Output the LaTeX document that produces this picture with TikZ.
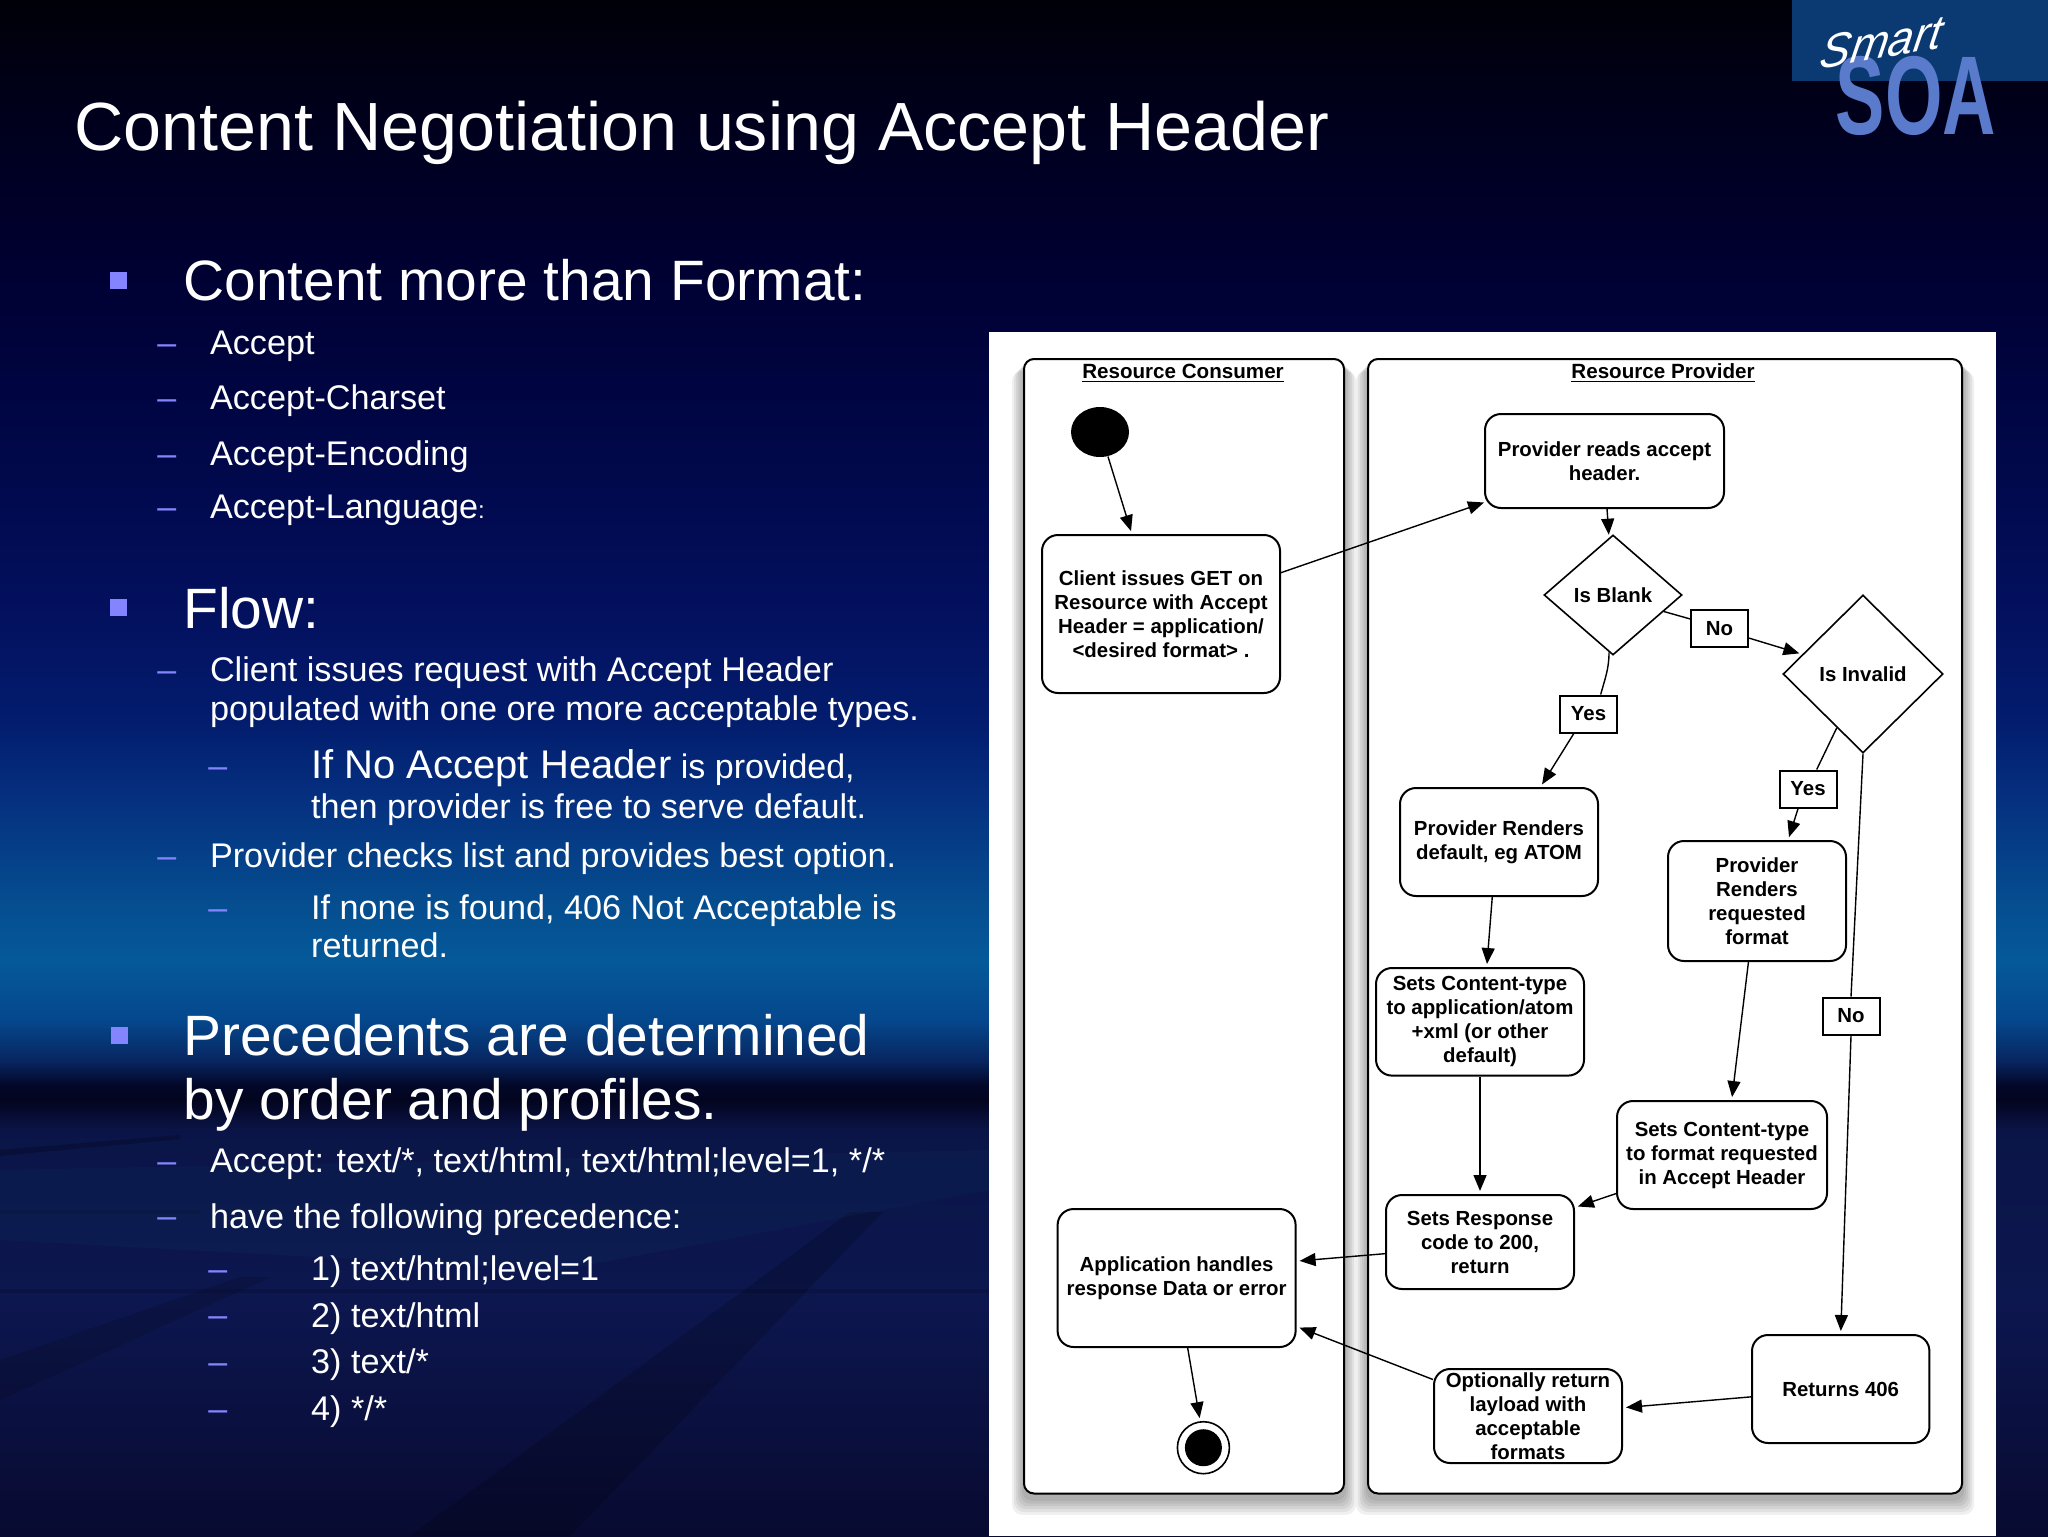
\documentclass[tikz,border=0pt]{standalone}
\usepackage{fontspec}
\setmainfont{Liberation Sans}
\usetikzlibrary{positioning, arrows.meta, shapes.geometric}
\definecolor{slideLilac}{HTML}{8484FF}
\definecolor{logoBlue}{HTML}{0B3A72}
\definecolor{logoSoa}{HTML}{5A7BCB}
\definecolor{slideTeal}{HTML}{1A7A8A}
\pgfdeclareverticalshading{slideSky}{100bp}{rgb(0bp)=(.03,.04,.19); rgb(25bp)=(.03,.04,.19); rgb(32.68bp)=(.05,.09,.31);
  rgb(38.2bp)=(.04,.08,.28); rgb(39.19bp)=(.01,.02,.12); rgb(39.68bp)=(.01,.03,.16); rgb(40.49bp)=(.03,.15,.38);
  rgb(41.8bp)=(.02,.28,.55); rgb(43.75bp)=(.02,.35,.6); rgb(45.7bp)=(.02,.3,.56); rgb(48.96bp)=(.02,.19,.5);
  rgb(51.56bp)=(.01,.11,.43); rgb(55.47bp)=(.01,.06,.36); rgb(61.98bp)=(0,.02,.26); rgb(66.54bp)=(0,0,.19);
  rgb(71.74bp)=(0,0,.1); rgb(75bp)=(0,0,.03); rgb(100bp)=(0,0,.03)}
\newcommand{\slideSize}[1]{\fontsize{#1}{#1}\selectfont}
\tikzset{
  slideTitle/.style={text=white, anchor=base west, inner sep=0pt, font=\slideSize{34.1}},
  headLine/.style={text=white, anchor=base west, inner sep=0pt, font=\slideSize{28.45}},
  subLine/.style={text=white, anchor=base west, inner sep=0pt, font=\slideSize{17.1}},
  dashMark/.style={text=slideLilac, anchor=base west, inner sep=0pt, font=\slideSize{17}},
  bulletMark/.style={fill=slideLilac, inner sep=0pt, minimum size=8.5pt},
  laneBox/.style={draw=black, line width=1pt, rounded corners=5pt, fill=white},
  laneTitle/.style={inner sep=0pt, font=\fontsize{10.3}{12}\selectfont\bfseries},
  flowBox/.style={draw=black, line width=1pt, rounded corners=8pt, fill=white, align=center, inner sep=0pt,
    font=\fontsize{10.2}{12}\selectfont\bfseries},
  flowDiamond/.style={diamond, draw=black, line width=.8pt, fill=white, align=center, inner sep=0pt,
    font=\fontsize{10.2}{12}\selectfont\bfseries},
  flowTag/.style={draw=black, line width=1pt, fill=white, inner sep=0pt, minimum width=28.5pt, minimum height=18.5pt,
    font=\fontsize{10.2}{12}\selectfont\bfseries},
  flowLine/.style={-{Stealth[length=8pt,width=6.5pt,inset=0pt]}, line width=.7pt, black, shorten >=1.5pt}
}
\begin{document}
\begin{tikzpicture}[x=.5pt, y=-.5pt]
    \useasboundingbox (0,0) rectangle (2048,1536);
    \fill[shading=slideSky] (0,0) rectangle (2048,1536);
    \fill[black, opacity=.18] (883,1212) -- (850,1212) -- (410,1536) -- (570,1536) -- cycle;
    \fill[black, opacity=.14] (271,1277) -- (240,1277) -- (0,1360) -- (0,1400) -- cycle;
    \fill[black, opacity=.2] (0,1150) -- (180,1135) -- (180,1139) -- (0,1156) -- cycle;
    \fill[black, opacity=.14] (0,1210) rectangle (200,1214);
    \fill[black, opacity=.14] (0,1289) rectangle (990,1293);
    \fill[slideTeal, opacity=.06] (0,1170) -- (990,1150) -- (990,1190) -- (560,1270) -- (0,1240) -- cycle;

    \fill[logoBlue] (1792,0) rectangle (2048,81.5);
    \node[inner sep=0pt, text=logoSoa, font=\slideSize{56}\bfseries] (logoSoa) at (1916,96) {\scalebox{.66}[1]{SOA}};
    \node[inner sep=0pt, text=white, rotate=10, xslant=.35, font=\slideSize{23}\itshape] (logoSmart) at (1882,42) {Smart};

    \node[slideTitle] (title) at (74,150) {Content Negotiation using Accept Header};

    \node[bulletMark] (b1) at (118.5,280) {};
    \node[bulletMark] (b2) at (118.5,607.5) {};
    \node[bulletMark] (b3) at (119,1035) {};
    \foreach \nm/\xx/\yy in {d1/157/354, d2/157/409, d3/157/465, d4/157/518, d5/157/681.7, d6/208/777,
        d7/157/867, d8/208/919, d9/157/1172.6, d10/157/1227.7, d11/208/1280, d12/208/1326.7, d13/208/1373.7, d14/208/1420}
      \node[dashMark] (\nm) at (\xx,\yy) {–};

    \node[headLine] (h1) at (183,300) {Content more than Format:};
    \node[subLine] (s1) at (209.6,354) {Accept};
    \node[subLine] (s2) at (209.6,409) {Accept-Charset};
    \node[subLine] (s3) at (209.6,465) {Accept-Encoding};
    \node[subLine] (s4) at (209.6,518) {Accept-Language{\slideSize{12}:}};
    \node[headLine] (h2) at (183,628.5) {Flow:};
    \node[subLine] (s5) at (209.6,681.7) {Client issues request with Accept Header};
    \node[subLine] (s6) at (209.6,720) {populated with one ore more acceptable types.};
    \node[subLine] (s7) at (310.8,778) {{\slideSize{20}If No Accept Header} {\slideSize{17}is provided,}};
    \node[subLine] (s8) at (310.8,818) {then provider is free to serve default.};
    \node[subLine] (s9) at (209.6,867) {Provider checks list and provides best option.};
    \node[subLine] (s10) at (310.8,919) {If none is found, 406 Not Acceptable is};
    \node[subLine] (s11) at (310.8,957.5) {returned.};
    \node[headLine] (h3) at (183,1055) {Precedents are determined};
    \node[headLine] (h4) at (183,1119) {by order and profiles.};
    \node[subLine] (s12) at (209.6,1172.6) {Accept: text/*, text/html, text/html;level=1, */*};
    \node[subLine] (s13) at (209.6,1228.5) {have the following precedence:};
    \node[subLine] (s14) at (310.8,1280) {1) text/html;level=1};
    \node[subLine] (s15) at (310.8,1327.5) {2) text/html};
    \node[subLine] (s16) at (310.8,1373.7) {3) text/*};
    \node[subLine] (s17) at (310.8,1420) {4) */*};

    \fill[white] (989,332) rectangle (1996,1536);
    \foreach \s in {2,4,...,12} {
      \fill[black, opacity=.06, rounded corners=5pt] ({1024-\s},{359+\s}) rectangle ({1344+\s},{1498+1.4*\s});
      \fill[black, opacity=.06, rounded corners=5pt] ({1368-\s},{359+\s}) rectangle ({1962+\s},{1498+1.4*\s});
    }
    \draw[laneBox] (1024,359) rectangle (1344,1493.5);
    \draw[laneBox] (1368,359) rectangle (1962,1493.5);
    \node[laneTitle] (consumer) at (1183,373.5) {\underline{Resource Consumer}};
    \node[laneTitle] (provider) at (1663,373.5) {\underline{Resource Provider}};

    \node[ellipse, fill=black, inner sep=0pt, minimum width=29pt, minimum height=25pt] (startDot) at (1100,432) {};
    \node[flowBox, minimum width=119pt, minimum height=79pt] (client) at (1161,614)
      {Client issues GET on\\Resource with Accept\\Header = application/\\<desired format> .};
    \node[flowBox, minimum width=119.5pt, minimum height=47pt] (reads) at (1604.5,461)
      {Provider reads accept\\header.};
    \node[flowDiamond, shape aspect=1.15, minimum width=69pt, minimum height=60pt] (blank) at (1613,595) {Is Blank};
    \node[flowDiamond, shape aspect=1.02, minimum width=80pt, minimum height=79pt] (invalid) at (1863,674) {Is Invalid};
    \node[flowTag] (noA) at (1719.5,628.5) {No};
    \node[flowTag] (yesA) at (1588.5,714) {Yes};
    \node[flowBox, minimum width=99pt, minimum height=54pt] (renderDefault) at (1499,842)
      {Provider Renders\\default, eg ATOM};
    \node[flowTag] (yesB) at (1808,789) {Yes};
    \node[flowBox, minimum width=89pt, minimum height=60pt] (renderFormat) at (1757,901)
      {Provider\\Renders\\requested\\format};
    \node[flowTag] (noB) at (1851,1016) {No};
    \node[flowBox, minimum width=104pt, minimum height=53.8pt] (setAtom) at (1480,1021.8)
      {Sets Content-type\\to application/atom\\+xml (or other\\default)};
    \node[flowBox, minimum width=105pt, minimum height=54pt] (setFormat) at (1722,1155)
      {Sets Content-type\\to format requested\\in Accept Header};
    \node[flowBox, minimum width=94pt, minimum height=47pt] (setResponse) at (1480,1242)
      {Sets Response\\code to 200,\\return};
    \node[flowBox, minimum width=119pt, minimum height=69pt] (handle) at (1176.6,1278)
      {Application handles\\response Data or error};
    \node[flowBox, minimum width=94pt, minimum height=47pt] (optional) at (1528,1416)
      {Optionally return\\layload with\\acceptable\\formats};
    \node[flowBox, minimum width=88.7pt, minimum height=54pt] (returns) at (1840.7,1389) {Returns 406};
    \node[circle, draw=black, line width=.8pt, fill=white, inner sep=0pt, minimum size=26pt] (endRing) at (1203.4,1447.7) {};
    \node[circle, fill=black, inner sep=0pt, minimum size=18.5pt] (endDot) at (1203.4,1447.7) {};

    \draw[flowLine] (startDot.-72) -- (client.110);
    \draw[flowLine, shorten >=0pt] (client.19) -- (reads.199);
    \draw[flowLine] (reads.-87) -- (blank.94);
    \draw[line width=.7pt] (blank.-18) -- (noA.162);
    \draw[flowLine] (noA.-18) -- (invalid.162);
    \draw[line width=.7pt] (blank.-94) to[out=-90, in=75] (yesA.58);
    \draw[flowLine] (yesA.233) -- (renderDefault.53);
    \draw[line width=.7pt] (invalid.244) -- (yesB.66);
    \draw[flowLine] (yesB.243) -- (renderFormat.63);
    \draw[line width=.7pt] (invalid.south) -- (noB.north);
    \draw[flowLine] (noB.south) -- (returns.north);
    \draw[flowLine] (renderDefault.-97) -- (setAtom.83);
    \draw[flowLine] (setAtom.south) -- (setResponse.north);
    \draw[flowLine] (renderFormat.-98) -- (setFormat.80);
    \draw[flowLine] (setFormat.200) -- (setResponse.20);
    \draw[flowLine] (setResponse.187) -- (handle.8);
    \draw[flowLine] (optional.159) -- (handle.-22);
    \draw[flowLine] (returns.185) -- (optional.5);
    \draw[flowLine] (handle.-81) -- (endRing.97);
  \end{tikzpicture}
\end{document}
